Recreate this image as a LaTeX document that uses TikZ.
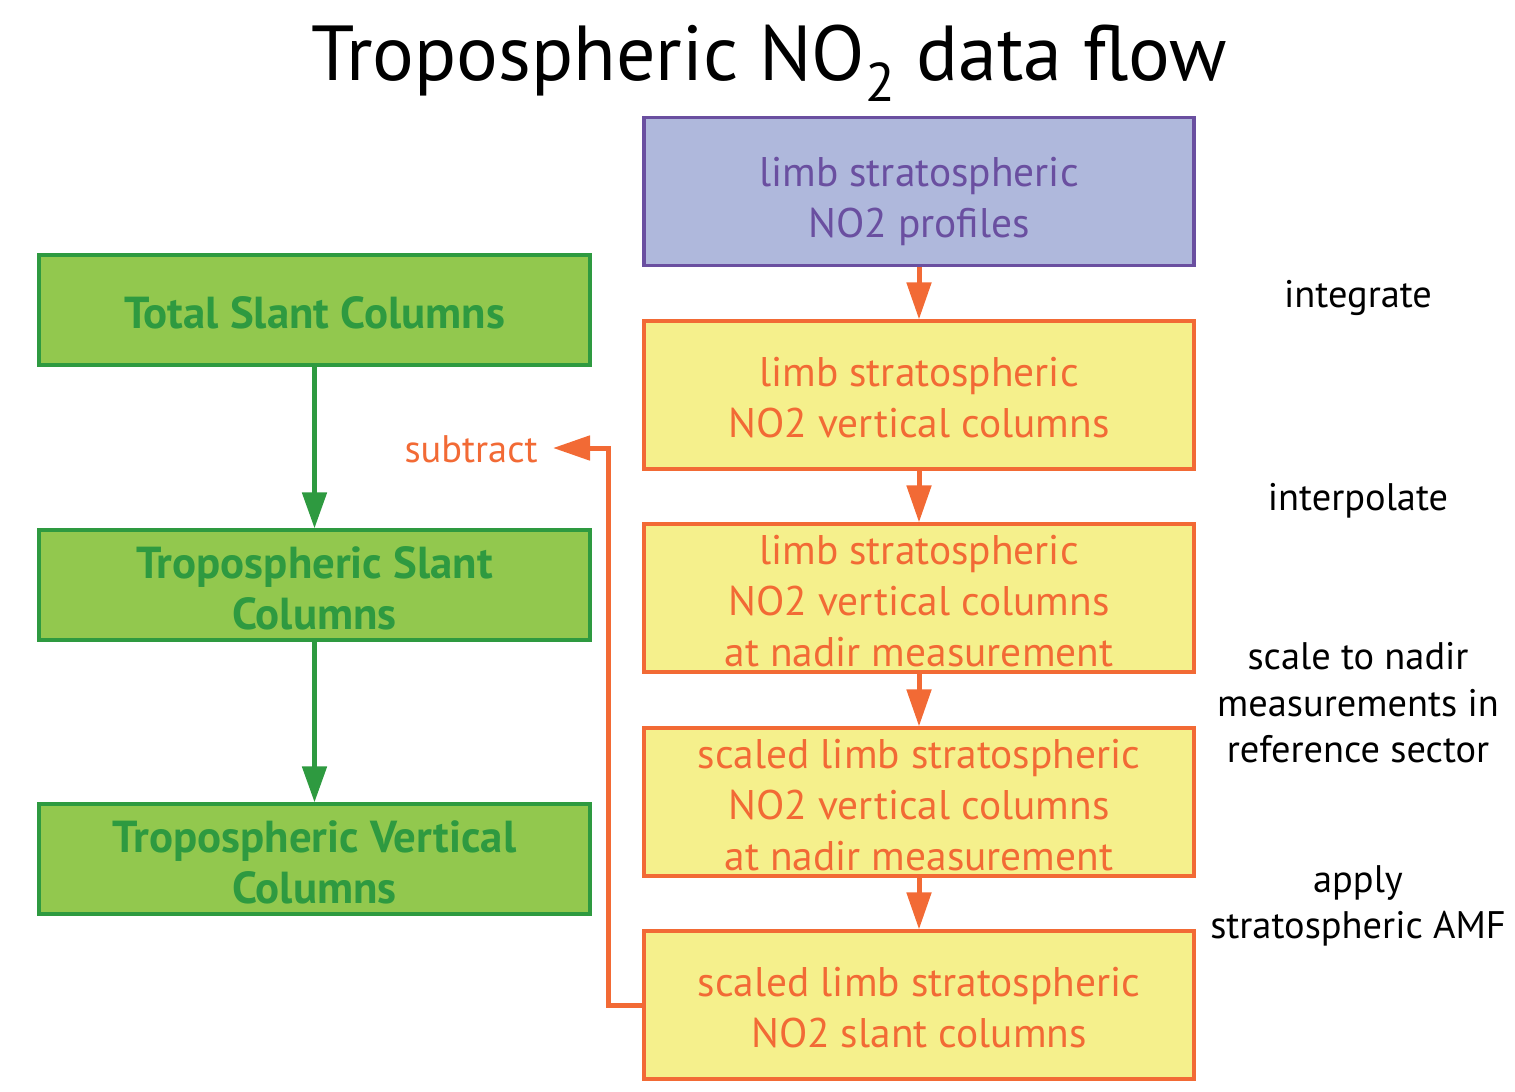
\documentclass[tikz,border=0pt]{standalone}
\usepackage{fontspec}
\setmainfont{PT Sans}
\usetikzlibrary{arrows.meta}
\definecolor{purpfill}{HTML}{AFB8DC}
\definecolor{purpline}{HTML}{6A4FA0}
\definecolor{yelfill}{HTML}{F5F08C}
\definecolor{orng}{HTML}{F26A35}
\definecolor{grfill}{HTML}{92C84E}
\definecolor{grline}{HTML}{2E9A40}
\begin{document}
\begin{tikzpicture}[x=0.5pt,y=-0.5pt,
  ybox/.style={draw=orng,fill=yelfill,line width=1.6pt,minimum width=275pt,minimum height=74pt,inner sep=0pt},
  ytxt/.style={align=center,text=orng,inner sep=0pt,yshift=-1.5pt,font=\fontsize{20.7}{25.5}\selectfont},
  pbox/.style={ybox,draw=purpline,fill=purpfill},
  ptxt/.style={ytxt,text=purpline,yshift=-3.5pt},
  gbox/.style={draw=grline,fill=grfill,line width=1.6pt,minimum width=275.5pt,minimum height=55pt,inner sep=0pt},
  gtxt/.style={align=center,text=grline,inner sep=0pt,yshift=-1.5pt,font=\fontsize{22.4}{25.5}\selectfont\bfseries},
  oarr/.style={draw=orng,line width=2.5pt,-{Triangle[length=18.5pt,width=12pt]}},
  garr/.style={draw=grline,line width=2.5pt,-{Triangle[length=18pt,width=12pt]}},
  lbl/.style={align=center,font=\fontsize{19.2}{23.3}\selectfont,inner sep=0pt}]
\useasboundingbox (0,0) rectangle (1515,1092);
\node[font=\fontsize{39}{45}\selectfont,inner sep=0pt,anchor=base] (title) at (769,80) {Tropospheric NO\textsubscript{2} data flow};
\node[pbox,label={[ptxt]center:limb stratospheric\\NO2 profiles}] (p) at (919,191.5) {};
\node[ybox,label={[ytxt]center:limb stratospheric\\NO2 vertical columns}] (y1) at (919,395) {};
\node[ybox,label={[ytxt]center:limb stratospheric\\NO2 vertical columns\\at nadir measurement}] (y2) at (919,598) {};
\node[ybox,label={[ytxt]center:scaled limb stratospheric\\NO2 vertical columns\\at nadir measurement}] (y3) at (919,802) {};
\node[ybox,label={[ytxt]center:scaled limb stratospheric\\NO2 slant columns}] (y4) at (919,1005) {};
\node[gbox,label={[gtxt]center:Total Slant Columns}] (g1) at (314.5,310) {};
\node[gbox,label={[gtxt]center:Tropospheric Slant\\Columns}] (g2) at (314.5,585) {};
\node[gbox,label={[gtxt]center:Tropospheric Vertical\\Columns}] (g3) at (314.5,859) {};
\node[lbl] (l1) at (1358,298) {integrate};
\node[lbl] (l2) at (1358,501) {interpolate};
\node[lbl] (l3) at (1358,703) {scale to nadir\\measurements in\\reference sector};
\node[lbl] (l4) at (1358,906) {apply\\stratospheric AMF};
\node[lbl,text=orng,anchor=east] (sub) at (538,449) {subtract};
\coordinate (tip) at (553,448);
\draw[oarr] (p) -- (y1);
\draw[oarr] (y1) -- (y2);
\draw[oarr] (y2) -- (y3);
\draw[oarr] (y3) -- (y4);
\draw[garr] (g1) -- (g2);
\draw[garr] (g2) -- (g3);
\draw[oarr] (y4.west) -- ++(-34,0) |- (tip);
\end{tikzpicture}
\end{document}
